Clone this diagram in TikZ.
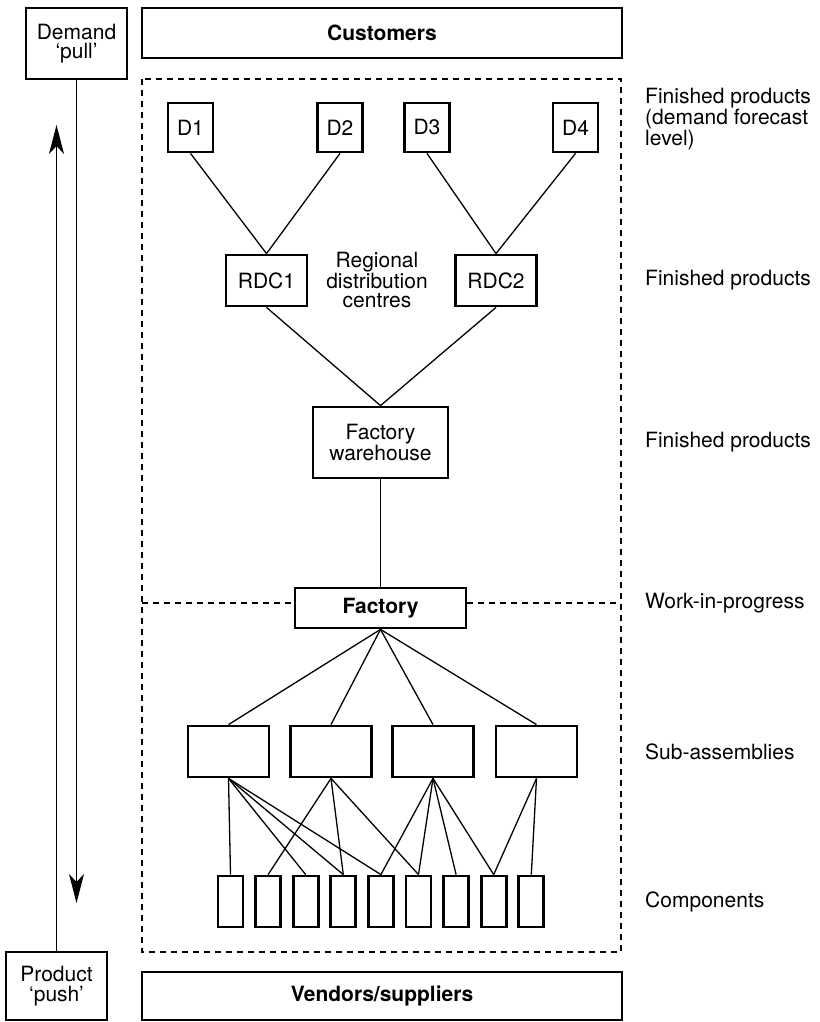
\documentclass[tikz,border=0pt]{standalone}
\usepackage{fontspec}
\setmainfont{TeX Gyre Heros}
\usetikzlibrary{arrows.meta,positioning}

\begin{document}
\begin{tikzpicture}[
  x=1pt, y=-1pt,
  font=\fontsize{21}{19.5}\selectfont,
  box/.style={draw, line width=2.8pt, align=center, inner sep=0pt},
  comp/.style={box, minimum width=25pt, minimum height=51pt},
  sub/.style={box, minimum width=81pt, minimum height=51pt},
  link/.style={line width=1.3pt},
  flow/.style={-{Stealth[length=29pt, width=15pt, inset=8pt]}, line width=1.3pt},
  frame/.style={line width=1.6pt, dash pattern=on 6pt off 5pt},
  side/.style={anchor=west, align=left, inner sep=0pt}
]
\useasboundingbox (0,0) rectangle (819,1022);

% end boxes
\node[box, minimum width=101pt, minimum height=71pt] (pull) at (76.5,43.5) {Demand\\`pull'};
\node[box, minimum width=101pt, minimum height=68pt] (push) at (56.5,986) {Product\\`push'};
\node[box, minimum width=480pt, minimum height=50pt, font=\fontsize{21}{19.5}\selectfont\bfseries] (cust) at (382,33) {Customers};
\node[box, minimum width=480pt, minimum height=48pt, font=\fontsize{21}{19.5}\selectfont\bfseries] (vend) at (382,996) {Vendors/suppliers};

% dashed enclosure
\draw[frame] (142,79) rectangle (621,952);

% distribution side
\node[box, minimum width=45pt, minimum height=49pt] (d1) at (190.5,127.5) {D1};
\node[box, minimum width=45pt, minimum height=49pt] (d2) at (340,127.5) {D2};
\node[box, minimum width=45pt, minimum height=49pt] (d3) at (427,127.5) {D3};
\node[box, minimum width=45pt, minimum height=49pt] (d4) at (575.5,127.5) {D4};
\node[sub] (rdc1) at (266.5,280.5) {RDC1};
\node[sub] (rdc2) at (496,280.5) {RDC2};
\node[align=center] (rdc) at (377,280) {Regional\\distribution\\centres};
\node[box, minimum width=135pt, minimum height=71pt] (fw) at (380.5,442.5) {Factory\\warehouse};
\node[box, minimum width=171pt, minimum height=40pt, font=\fontsize{21}{19.5}\selectfont\bfseries] (fac) at (380.5,608) {Factory};

\draw[link] (d1.south) -- (rdc1.north);
\draw[link] (d2.south) -- (rdc1.north);
\draw[link] (d3.south) -- (rdc2.north);
\draw[link] (d4.south) -- (rdc2.north);
\draw[link] (rdc1.south) -- (fw.north);
\draw[link] (rdc2.south) -- (fw.north);
\draw[link] (fw.south) -- (fac.north);

% split line
\coordinate (wl) at (142,603);
\coordinate (wr) at (621,603);
\draw[frame] (wl) -- (wl -| fac.west);
\draw[frame] (wr -| fac.east) -- (wr);

% manufacturing side
\foreach \i/\x in {1/228.5, 2/331, 3/433, 4/536.5}
  \node[sub] (s\i) at (\x,751.5) {};
\foreach \i in {1,...,9}
  \node[comp] (c\i) at ({230.5+37.6*(\i-1)},901.5) {};

\foreach \i in {1,...,4}
  \draw[link] (fac.south) -- (s\i.north);
\foreach \s/\c in {1/1,1/3,1/4,1/5,2/2,2/4,2/6,3/5,3/6,3/7,3/8,4/8,4/9}
  \draw[link] (s\s.south) -- (c\c.north);

% pull and push
\coordinate (pullend) at (76.5,903);
\coordinate (pushend) at (56.5,125);
\draw[flow] (pull.south) -- (pullend);
\draw[flow] (push.north) -- (pushend);

% level labels
\node[side] (l1) at (645,119) {Finished products\\(demand forecast\\level)};
\node[side] (l2) at (645,280) {Finished products};
\node[side] (l3) at (645,442) {Finished products};
\node[side] (l4) at (645,603) {Work-in-progress};
\node[side] (l5) at (645,752) {Sub-assemblies};
\node[side] (l6) at (645,902) {Components};

\end{tikzpicture}
\end{document}
